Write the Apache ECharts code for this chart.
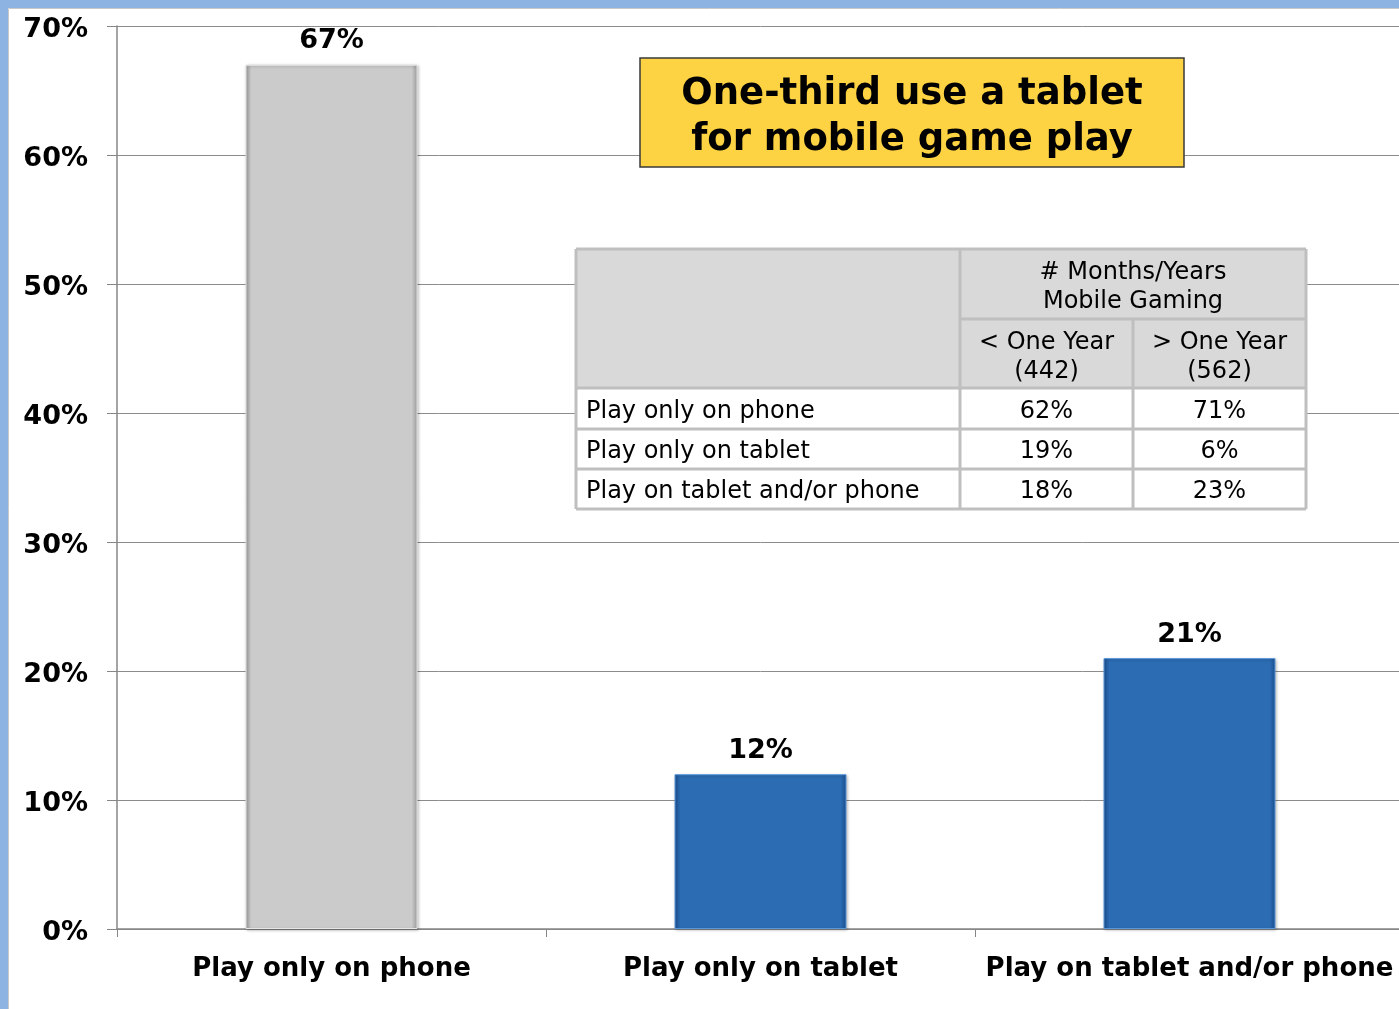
<!DOCTYPE html>
<html>
<head>
<meta charset="utf-8">
<script src="https://cdn.jsdelivr.net/npm/echarts@6/dist/echarts.min.js"></script>
<style>
  html, body { margin: 0; padding: 0; background: #ffffff; overflow: hidden; }
  #chart { width: 1410px; height: 1009px; }
</style>
</head>
<body>
<div id="chart"></div>
<script>
// Bar chart data
const categories = ['Play only on phone', 'Play only on tablet', 'Play on tablet and/or phone'];
const shares = [67, 12, 21];
const yTicks = [0, 10, 20, 30, 40, 50, 60, 70];

// Callout and inset table text
const calloutLines = ['One-third use a tablet', 'for mobile game play'];
const tableGroupHeader = ['# Months/Years', 'Mobile Gaming'];
const tableColHeaders = [['< One Year', '(442)'], ['> One Year', '(562)']];
const tableRowLabels = ['Play only on phone', 'Play only on tablet', 'Play on tablet and/or phone'];
const tableLessThanYear = ['62%', '19%', '18%'];
const tableMoreThanYear = ['71%', '6%', '23%'];

const FONT = '"DejaVu Sans", Verdana, sans-serif';
const pct = v => v + '%';

function bevel(edge, mid) {
  return {
    type: 'linear', x: 0, y: 0, x2: 1, y2: 0,
    colorStops: [
      { offset: 0, color: edge },
      { offset: 0.035, color: mid },
      { offset: 0.965, color: mid },
      { offset: 1, color: edge }
    ]
  };
}
const barFills = [
  { fill: bevel('#9c9c9c', '#cbcbcb'), border: '#e6e6e6' },
  { fill: bevel('#1d5090', '#2b6cb3'), border: '#5b98da' },
  { fill: bevel('#1d5090', '#2b6cb3'), border: '#5b98da' }
];

// Inset table geometry
const tX = [576, 960, 1133, 1306];
const tY = [249, 319, 388, 429, 469, 509];
const gridCol = '#bfbfbf';
const headBg = '#d9d9d9';

const graphics = [];
// page frame
graphics.push({ type: 'rect', shape: { x: 0, y: 0, width: 1410, height: 8 }, style: { fill: '#8db3e2' }, silent: true, z: 100 });
graphics.push({ type: 'rect', shape: { x: 0, y: 0, width: 8, height: 1009 }, style: { fill: '#8db3e2' }, silent: true, z: 100 });
graphics.push({ type: 'polyline', shape: { points: [[8.5, 1009], [8.5, 8.5], [1410, 8.5]] }, style: { stroke: '#c8c8c8', lineWidth: 1, fill: null }, silent: true, z: 100 });

// callout box
graphics.push({ type: 'rect', shape: { x: 640, y: 58, width: 544, height: 109 }, style: { fill: '#fdd243', stroke: '#3a3a3a', lineWidth: 1.5 }, z: 50 });
calloutLines.forEach((t, i) => {
  graphics.push({ type: 'text', x: 912, y: 94 + i * 46, style: { text: t, font: 'bold 37px ' + FONT, fill: '#000', align: 'center', verticalAlign: 'middle' }, z: 51 });
});

// table backgrounds
graphics.push({ type: 'rect', shape: { x: tX[0], y: tY[0], width: tX[3] - tX[0], height: tY[2] - tY[0] }, style: { fill: headBg }, z: 50 });
graphics.push({ type: 'rect', shape: { x: tX[0], y: tY[2], width: tX[3] - tX[0], height: tY[5] - tY[2] }, style: { fill: '#ffffff' }, z: 50 });
// table lines
const tl = [];
tl.push([[tX[0], tY[0]], [tX[3], tY[0]]]);
tl.push([[tX[1], tY[1]], [tX[3], tY[1]]]);
for (let r = 2; r <= 5; r++) tl.push([[tX[0], tY[r]], [tX[3], tY[r]]]);
tl.push([[tX[0], tY[0]], [tX[0], tY[5]]]);
tl.push([[tX[1], tY[0]], [tX[1], tY[5]]]);
tl.push([[tX[2], tY[1]], [tX[2], tY[5]]]);
tl.push([[tX[3], tY[0]], [tX[3], tY[5]]]);
tl.forEach(p => graphics.push({ type: 'line', shape: { x1: p[0][0], y1: p[0][1], x2: p[1][0], y2: p[1][1] }, style: { stroke: gridCol, lineWidth: 3 }, z: 52 }));

const cellFont = '24px ' + FONT;
const txt = (s, x, y, align) => graphics.push({ type: 'text', x: x, y: y, style: { text: s, font: cellFont, fill: '#000', align: align || 'center', verticalAlign: 'middle' }, z: 53 });
const c1 = (tX[1] + tX[3]) / 2;
tableGroupHeader.forEach((s, i) => txt(s, c1, 273 + i * 29));
tableColHeaders.forEach((lines, c) => {
  const cx = (tX[c + 1] + tX[c + 2]) / 2;
  lines.forEach((s, i) => txt(s, cx, 343 + i * 29));
});
tableRowLabels.forEach((s, r) => {
  const cy = (tY[r + 2] + tY[r + 3]) / 2 + 3;
  txt(s, tX[0] + 10, cy, 'left');
  txt(tableLessThanYear[r], (tX[1] + tX[2]) / 2, cy);
  txt(tableMoreThanYear[r], (tX[2] + tX[3]) / 2, cy);
});

const chart = echarts.init(document.getElementById('chart'));
chart.setOption({
  backgroundColor: '#ffffff',
  animation: false,
  grid: { left: 117, top: 26, width: 1287, bottom: 80, containLabel: false },
  xAxis: {
    type: 'category',
    data: categories,
    axisLine: { lineStyle: { color: '#868686', width: 1.5 } },
    axisTick: { show: true, length: 8, lineStyle: { color: '#868686' } },
    axisLabel: { color: '#000', fontFamily: FONT, fontWeight: 'bold', fontSize: 26, margin: 27, interval: 0 }
  },
  yAxis: {
    type: 'value',
    min: 0, max: 70, interval: 10,
    axisLine: { show: true, lineStyle: { color: '#868686', width: 1.5 } },
    axisTick: { show: true, length: 10, inside: false, lineStyle: { color: '#868686' } },
    splitLine: { lineStyle: { color: '#8c8c8c', width: 1 } },
    axisLabel: {
      margin: 29,
      formatter: v => '{p|' + pct(v) + '}',
      rich: { p: { color: '#000', fontFamily: FONT, fontWeight: 'bold', fontSize: 27, padding: [8, 0, 0, 0] } }
    }
  },
  series: [{
    type: 'bar',
    barWidth: 172,
    data: shares.map((v, i) => ({
      value: v,
      itemStyle: { color: barFills[i].fill, borderColor: barFills[i].border, borderWidth: 1 }
    })),
    itemStyle: { shadowColor: 'rgba(0,0,0,0.25)', shadowBlur: 3, shadowOffsetX: 1, shadowOffsetY: 1 },
    label: { show: true, position: 'top', distance: 10, color: '#000', fontFamily: FONT, fontWeight: 'bold', fontSize: 27, formatter: p => pct(p.value) }
  }],
  graphic: graphics
});
</script>
</body>
</html>
